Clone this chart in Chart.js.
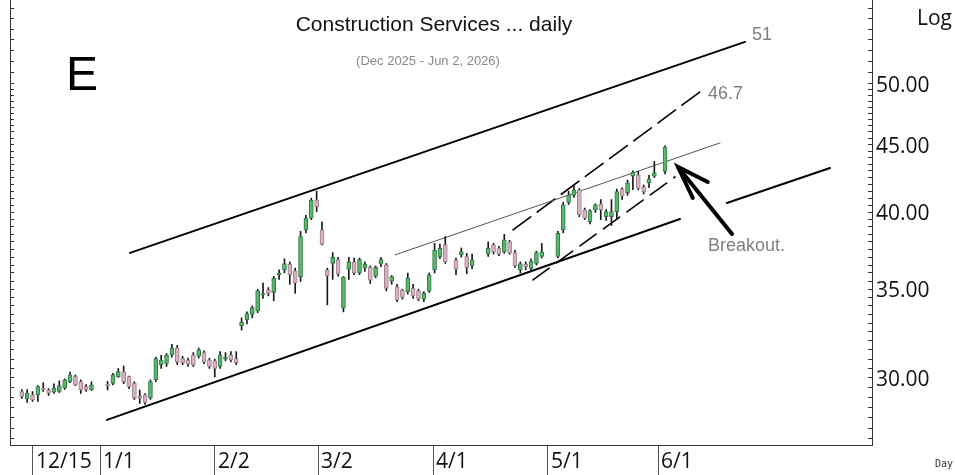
<!DOCTYPE html>
<html>
<head>
<meta charset="utf-8">
<script src="https://cdn.jsdelivr.net/npm/chart.js@4.4.1/dist/chart.umd.min.js"></script>
<style>
  html, body { margin: 0; padding: 0; background: #fff; }
  #wrap { width: 955px; height: 475px; }
</style>
</head>
<body>
<div id="wrap"><canvas id="chart" width="955" height="475"></canvas></div>
<script>
/* Construction Services daily: candles on a log price axis, trend channel + wedge */

// trading-day index of each candle
const slots = [
  2, 3, 4, 5, 6, 7, 8, 9, 10, 11, 12, 13, 14, 15,
  18, 19, 20, 21, 22, 23, 24, 25, 26, 27, 28, 29, 30, 31, 32, 33, 34, 35, 36, 37, 38, 39, 40, 41, 42,
  43, 44, 45, 46, 47, 48, 49, 50, 51, 52, 53, 54, 55, 56, 57, 58,
  59, 60, 61, 62, 63, 64, 65, 66, 67, 68, 69, 70, 71, 72, 73, 74, 75, 76, 77, 78, 79, 80, 81,
  83, 84, 85, 86,
  89, 90, 91, 92, 93, 94, 95, 96, 97, 98, 99,
  102, 103, 104, 105, 106, 107, 108, 109, 110, 111, 112, 113, 114, 115, 116, 117, 118, 119, 120, 122
];
const opens = [
  29.30, 28.92, 29.13, 29.13, 29.45, 29.38, 29.27, 29.30, 29.48, 29.81, 30.07, 29.81, 29.55, 29.38,
  29.64, 29.72, 30.07, 30.33, 30.07, 29.72, 29.05, 29.13, 28.97, 29.90, 30.70, 30.77, 31.22, 31.60, 31.03, 30.95, 31.22, 31.15, 31.35, 30.95, 30.90, 30.60, 31.00, 31.22, 31.03,
  32.85, 33.20, 33.50, 33.70, 34.65, 34.96, 34.80, 35.90, 36.20, 36.55, 36.13, 35.77, 38.80, 39.60, 40.87, 38.80,
  36.19, 36.60, 36.85, 33.87, 36.22, 36.70, 36.00, 36.30, 36.35, 35.80, 36.55, 36.50, 35.50, 35.15, 34.95, 34.85, 35.05, 34.90, 34.40, 34.88, 36.19, 37.04, 37.80,
  36.83, 37.15, 37.04, 36.45,
  37.20, 37.80, 37.60, 37.35, 38.00, 37.30, 36.19, 36.55, 36.28, 36.60, 37.05,
  37.05, 38.80, 40.70, 41.20, 41.59, 40.17, 39.35, 40.17, 40.60, 39.70, 39.70, 40.05, 41.65, 41.40, 42.60, 42.70, 41.80, 42.10, 42.60, 42.95
];
const highs = [
  29.40, 29.40, 29.30, 29.60, 29.75, 29.45, 29.70, 29.85, 29.95, 30.30, 30.15, 29.90, 29.65, 29.80,
  29.82, 30.24, 30.50, 30.63, 30.10, 29.80, 29.38, 29.20, 29.90, 31.10, 31.20, 31.30, 31.80, 31.75, 31.15, 31.05, 31.35, 31.60, 31.45, 31.05, 31.00, 31.40, 31.35, 31.40, 31.40,
  33.30, 33.65, 34.00, 35.00, 35.37, 35.10, 35.80, 36.20, 36.90, 36.70, 36.30, 38.70, 39.80, 41.00, 41.50, 39.35,
  36.30, 37.30, 37.00, 35.78, 37.00, 36.95, 36.95, 36.70, 36.45, 36.45, 37.00, 36.60, 35.85, 35.30, 35.00, 36.00, 35.30, 35.00, 34.85, 36.00, 37.90, 37.85, 38.35,
  36.95, 37.60, 37.25, 37.20,
  38.00, 37.90, 37.70, 38.50, 38.10, 37.45, 36.70, 36.70, 36.90, 37.40, 37.90,
  38.70, 40.70, 41.50, 41.90, 41.70, 40.30, 40.20, 40.60, 40.90, 40.20, 40.90, 41.65, 41.75, 42.30, 43.00, 42.95, 41.95, 42.65, 43.70, 44.90
];
const lows = [
  28.95, 28.75, 28.80, 28.80, 29.30, 29.10, 29.20, 29.25, 29.40, 29.75, 29.60, 29.20, 29.30, 29.35,
  29.38, 29.64, 30.03, 29.70, 29.45, 28.90, 28.70, 28.65, 28.90, 29.80, 30.50, 30.60, 31.10, 30.70, 30.70, 30.60, 30.60, 31.05, 30.75, 30.50, 30.05, 30.50, 30.90, 30.85, 30.70,
  32.60, 32.95, 33.30, 33.60, 34.45, 34.60, 34.30, 35.60, 36.00, 35.30, 34.75, 35.47, 38.60, 39.50, 40.05, 37.80,
  34.06, 35.60, 35.80, 33.65, 35.60, 35.90, 35.90, 36.10, 35.35, 35.70, 36.40, 34.90, 35.30, 34.25, 34.40, 34.70, 34.45, 34.30, 34.25, 34.80, 36.00, 36.90, 36.60,
  35.90, 37.00, 35.95, 36.25,
  37.05, 37.20, 37.10, 37.25, 37.20, 36.35, 36.00, 36.20, 36.10, 36.50, 36.95,
  36.95, 38.60, 40.55, 41.05, 39.70, 39.50, 39.20, 40.00, 39.50, 39.45, 39.10, 39.50, 40.90, 41.20, 41.60, 41.60, 41.30, 41.75, 42.50, 42.76
];
const closes = [
  29.05, 29.22, 28.87, 29.55, 29.40, 29.22, 29.48, 29.60, 29.90, 30.16, 29.64, 29.38, 29.38, 29.64,
  29.60, 30.16, 30.33, 29.81, 29.55, 28.97, 28.95, 28.75, 29.81, 31.03, 30.95, 31.22, 31.60, 30.85, 30.80, 30.73, 30.69, 31.50, 30.85, 30.60, 30.50, 31.22, 31.10, 30.95, 30.80,
  33.05, 33.55, 33.90, 34.90, 34.70, 34.75, 35.67, 35.92, 36.60, 35.90, 35.37, 38.35, 39.60, 40.87, 40.40, 37.83,
  35.84, 37.00, 35.95, 35.74, 36.70, 36.00, 36.85, 36.55, 35.55, 36.35, 36.85, 35.05, 35.77, 34.35, 34.50, 35.67, 34.60, 34.40, 34.75, 35.88, 37.47, 37.58, 36.70,
  36.26, 37.35, 36.35, 36.83,
  37.60, 37.35, 37.20, 38.13, 37.28, 36.46, 36.60, 36.40, 36.75, 37.30, 37.35,
  38.57, 40.52, 41.23, 41.59, 39.82, 39.60, 40.10, 40.52, 40.17, 40.05, 40.05, 41.47, 41.15, 42.10, 42.90, 41.70, 41.45, 42.40, 42.85, 44.80
];

// axis ticks
const xTickPos    = [4.09, 16.59, 38.04, 57.26, 78.71, 100.16, 120.68];
const xTickLabels = ['12/15', '1/1', '2/2', '3/2', '4/1', '5/1', '6/1'];
const yMajor = [30, 35, 40, 45, 50];

// drawn lines (trading-day index, price)
const upperChannel = [{ x: 22.19, y: 37.28 }, { x: 136.91, y: 53.79 }];
const lowerChannelA = [{ x: 17.89, y: 27.89 }, { x: 124.78, y: 39.54 }];
const lowerChannelB = [{ x: 133.53, y: 40.66 }, { x: 152.76, y: 43.21 }];
const thinLine = [{ x: 71.62, y: 37.15 }, { x: 132.25, y: 45.13 }];
const wedgeTop = [{ x: 93.63, y: 38.80 }, { x: 128.51, y: 49.31 }];
const wedgeBottom = [{ x: 97.36, y: 35.57 }, { x: 123.85, y: 42.54 }];
const arrowShaft = [{ x: 124.41, y: 43.28 }, { x: 134.49, y: 38.53 }];
const arrowHead = [{ x: 129.97, y: 42.17 }, { x: 124.41, y: 43.28 }, { x: 127.17, y: 41.01 }];

const Y_MIN = 26.7, Y_MAX = 57.85;

function logTicks(scale) {
  const t = [];
  for (let i = 54; i <= 100; i++) t.push({ value: i / 2 });
  for (let v = 51; v <= 57; v++) t.push({ value: v });
  scale.ticks = t;
}

function noPad(scale) {
  scale.paddingTop = 0; scale.paddingBottom = 0;
  scale.paddingLeft = 0; scale.paddingRight = 0;
}

const up = closes.map((c, i) => c >= opens[i]);

function lineSet(data, width, color, dash) {
  return {
    type: 'line', data, borderColor: color, borderWidth: width,
    borderDash: dash || [], pointRadius: 0, fill: false, tension: 0,
    borderCapStyle: 'round', order: 3
  };
}

const textPlugin = {
  id: 'chartText',
  afterDraw(chart) {
    const ctx = chart.ctx;
    ctx.save();
    ctx.textBaseline = 'alphabetic';
    ctx.textAlign = 'center';
    ctx.fillStyle = '#111';
    ctx.font = '21px "Liberation Sans", Arial, sans-serif';
    ctx.fillText('Construction Services ... daily', 434, 31);
    ctx.fillStyle = '#8a8a8a';
    ctx.font = '13px "Liberation Sans", Arial, sans-serif';
    ctx.fillText('(Dec 2025 - Jun 2, 2026)', 428, 65);

    ctx.textAlign = 'left';
    ctx.fillStyle = '#000';
    ctx.font = '48px "Liberation Sans", Arial, sans-serif';
    ctx.fillText('E', 66, 90);

    ctx.fillStyle = '#808080';
    ctx.font = '18px "Liberation Sans", Arial, sans-serif';
    ctx.fillText('51', 752, 40);
    ctx.fillText('46.7', 708, 99);
    ctx.fillText('Breakout.', 708, 251);

    ctx.fillStyle = '#111';
    ctx.font = '21px "Open Sans", sans-serif';
    ctx.fillText('Log', 917, 25);
    ctx.fillStyle = '#333';
    ctx.font = '10px "DejaVu Sans Mono", monospace';
    ctx.fillText('Day', 935, 467);
    ctx.restore();
  }
};

new Chart(document.getElementById('chart'), {
  type: 'bar',
  data: {
    datasets: [
      {
        label: 'body',
        data: slots.map((s, i) => ({ x: s, y: [opens[i], closes[i]] })),
        backgroundColor: up.map(u => u ? '#5cb56e' : '#dab3c3'),
        borderColor: up.map(u => u ? '#2f7a45' : '#9c7f8c'),
        borderWidth: 1,
        borderSkipped: false,
        barThickness: 4,
        minBarLength: 1.5,
        grouped: false,
        order: 0
      },
      {
        label: 'wick',
        data: slots.map((s, i) => ({ x: s, y: [lows[i], highs[i]] })),
        backgroundColor: '#1a1a1a',
        barThickness: 1,
        grouped: false,
        order: 1
      },
      lineSet(thinLine, 1, '#555'),
      lineSet(upperChannel, 2, '#000'),
      lineSet(lowerChannelA, 2, '#000'),
      lineSet(lowerChannelB, 2, '#000'),
      lineSet(wedgeTop, 1.6, '#000', [22, 8]),
      lineSet(wedgeBottom, 1.6, '#000', [20, 9]),
      lineSet(arrowShaft, 4, '#000'),
      lineSet(arrowHead, 4, '#000')
    ]
  },
  options: {
    responsive: false,
    animation: false,
    devicePixelRatio: 1,
    layout: { padding: 0, autoPadding: false },
    plugins: { legend: { display: false }, tooltip: { enabled: false } },
    scales: {
      x: {
        type: 'linear', position: 'bottom', min: -0.2, max: 160.6, offset: false,
        afterBuildTicks: s => { s.ticks = xTickPos.map(v => ({ value: v })); },
        afterFit: s => { s.height = 30; noPad(s); },
        ticks: {
          autoSkip: false, maxRotation: 0, align: 'start', labelOffset: 3, padding: -26,
          color: '#111', font: { family: '"Open Sans", sans-serif', size: 21 },
          callback: (v, i) => xTickLabels[i]
        },
        grid: { offset: false, drawOnChartArea: false, tickLength: 30, color: '#555' },
        border: { color: '#333' }
      },
      y: {
        type: 'logarithmic', position: 'right', min: Y_MIN, max: Y_MAX,
        afterBuildTicks: logTicks,
        afterFit: s => { s.width = 83; noPad(s); },
        ticks: {
          autoSkip: false, padding: 8, labelOffset: 2, color: '#111',
          font: { family: '"Open Sans", sans-serif', size: 21 },
          callback: v => yMajor.includes(v) ? v.toFixed(2) : ''
        },
        grid: { drawOnChartArea: false, tickLength: -4, color: '#333' },
        border: { color: '#333' }
      },
      yLeft: {
        type: 'logarithmic', position: 'left', min: Y_MIN, max: Y_MAX,
        afterBuildTicks: logTicks,
        afterFit: s => { s.width = 10; noPad(s); },
        ticks: { display: false },
        grid: { drawOnChartArea: false, tickLength: -4, color: '#333' },
        border: { color: '#333' }
      }
    }
  },
  plugins: [textPlugin]
});
</script>
</body>
</html>
